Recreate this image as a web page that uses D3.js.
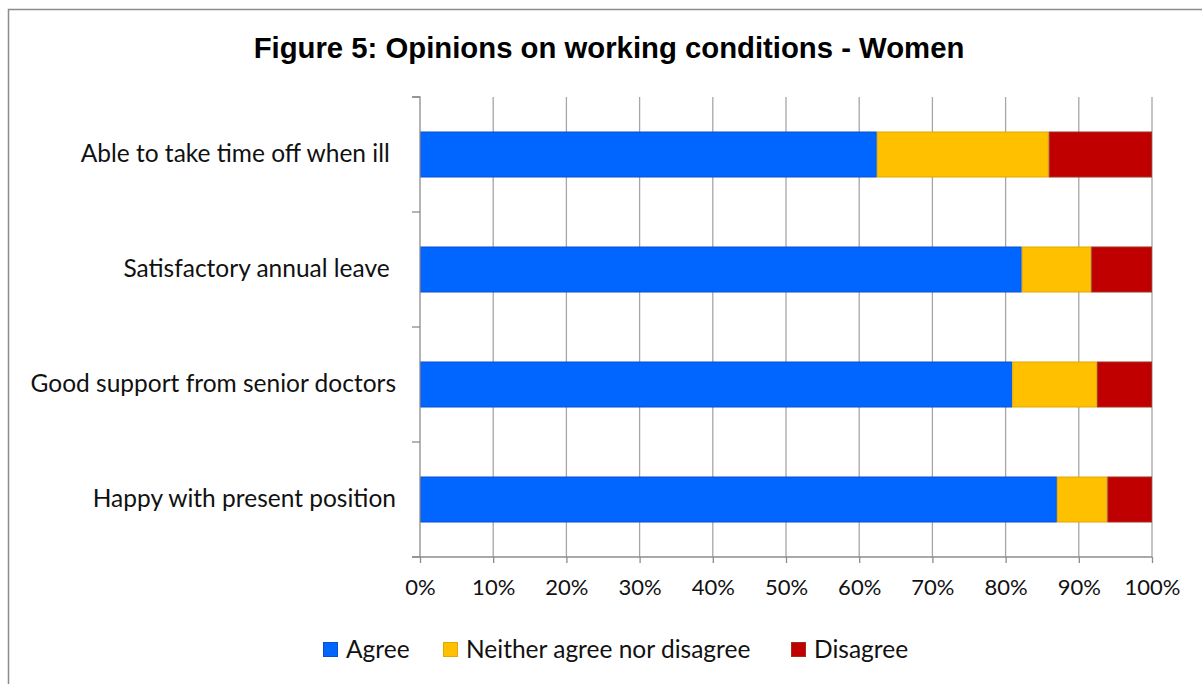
<!DOCTYPE html>
<html><head><meta charset="utf-8">
<script src="https://cdn.jsdelivr.net/npm/d3@7"></script>
<style>
body{margin:0;background:#fff;}
svg text{white-space:pre;}
</style>
</head><body>
<svg id="chart" width="1202" height="684"></svg>
<script>
const categories = ["Able to take time off when ill ", "Satisfactory annual leave ", "Good support from senior doctors", "Happy with present position"];
const seriesNames = ["Agree", "Neither agree nor disagree", "Disagree"];
const agree = [62.4, 82.2, 80.9, 87.0];
const neither = [23.5, 9.5, 11.6, 6.9];
const disagree = [14.1, 8.3, 7.5, 6.1];
const xTicks = [0, 10, 20, 30, 40, 50, 60, 70, 80, 90, 100];
const colors = ["#0066ff", "#ffc000", "#c00000"];
const strokes = ["#0a4fd0", "#e0a800", "#a03020"];

(function(){
const svg = d3.select("#chart");
const FONT = "Lato, Carlito, sans-serif";
svg.append("rect").attr("x", 8.5).attr("y", 9.5).attr("width", 1210).attr("height", 700)
  .attr("fill", "#fff").attr("stroke", "#8c8c8c").attr("stroke-width", 1.5);

svg.append("text").attr("x", 609).attr("y", 58).attr("text-anchor", "middle")
  .attr("font-family", "Liberation Sans, Arial").attr("font-weight", "bold").attr("font-size", 29.3)
  .attr("fill", "#000").text("Figure 5: Opinions on working conditions - Women");

const pL = 420, pR = 1152, pT = 97, pB = 557;
const x = d3.scaleLinear().domain([0, 100]).range([pL, pR]);
const y = d3.scaleBand().domain(categories).range([pT, pB]).paddingInner(0.6).paddingOuter(0.3);

svg.append("g").selectAll("line").data(xTicks.slice(1)).join("line")
  .attr("x1", d => x(d)).attr("x2", d => x(d)).attr("y1", pT).attr("y2", pB)
  .attr("stroke", "#a6a6a6").attr("stroke-width", 1.3);

const data = categories.map((c, i) => ({cat: c, vals: [agree[i], neither[i], disagree[i]]}));
const stack = [];
data.forEach(d => { let acc = 0; d.vals.forEach((v, k) => { stack.push({cat: d.cat, k, x0: acc, x1: acc + v}); acc += v; }); });

svg.append("g").selectAll("rect").data(stack).join("rect")
  .attr("x", d => x(d.x0) + 0.5).attr("width", d => x(d.x1) - x(d.x0) - 1)
  .attr("y", d => y(d.cat) + 0.5).attr("height", y.bandwidth() - 1)
  .attr("fill", d => colors[d.k]).attr("stroke", d => strokes[d.k]).attr("stroke-width", 1);

const xAxis = d3.axisBottom(x).tickValues(xTicks).tickFormat(d => d + "%").tickSize(6).tickSizeOuter(0);
const gx = svg.append("g").attr("transform", `translate(0,${pB})`).call(xAxis);
gx.select(".domain").attr("stroke", "#8c8c8c").attr("stroke-width", 1.3).attr("d", `M${pL - 8},0H${pR}`);
gx.selectAll(".tick line").attr("stroke", "#8c8c8c").attr("stroke-width", 1.3);
gx.selectAll(".tick text").attr("font-family", FONT).attr("font-size", 22)
  .attr("fill", "#111").attr("dy", "0.71em").attr("y", 22);

const yAxis = d3.axisLeft(y).tickSize(0).tickPadding(24);
const gy = svg.append("g").attr("transform", `translate(${pL},0)`).call(yAxis);
gy.select(".domain").attr("stroke", "#8c8c8c").attr("stroke-width", 1.3).attr("d", `M-8,${pT}H0V${pB}`);
gy.selectAll(".tick text").attr("font-family", FONT).attr("font-size", 24.5).attr("fill", "#111");
const bounds = d3.range(categories.length + 1).map(i => pT + i * (pB - pT) / categories.length);
gy.selectAll(".bt").data(bounds).join("line").attr("class", "bt")
  .attr("x1", -8).attr("x2", 0).attr("y1", d => d).attr("y2", d => d)
  .attr("stroke", "#8c8c8c").attr("stroke-width", 1.3);

const legendX = [323, 443, 791];
const lg = svg.append("g").selectAll("g").data(seriesNames).join("g")
  .attr("transform", (d, i) => `translate(${legendX[i]},642)`);
lg.append("rect").attr("x", 0.5).attr("y", 0.5).attr("width", 14).attr("height", 14)
  .attr("fill", (d, i) => colors[i]).attr("stroke", (d, i) => strokes[i]);
lg.append("text").attr("x", 23).attr("y", 16).attr("font-family", FONT).attr("font-size", 24.5)
  .attr("fill", "#111").text(d => d);
})();
</script>
</body></html>
